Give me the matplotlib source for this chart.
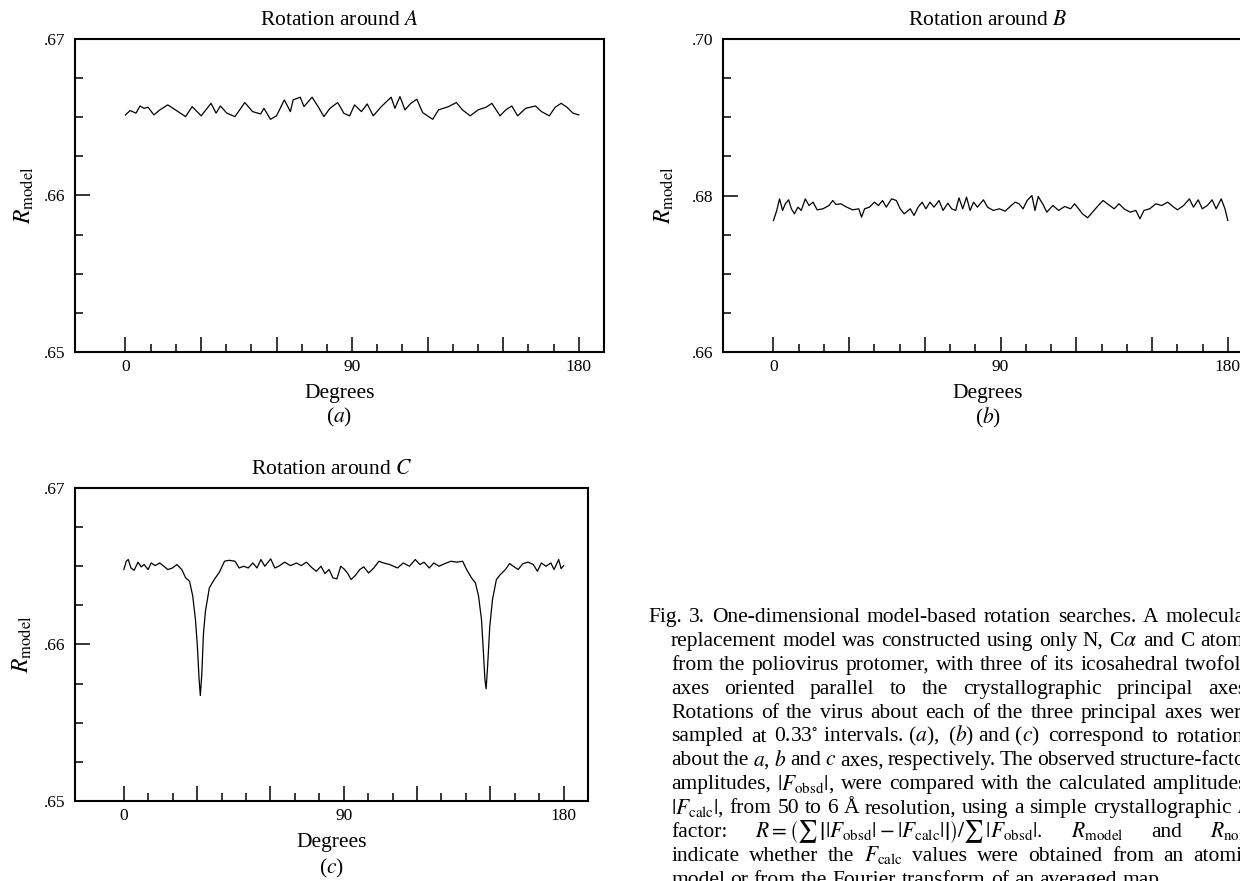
import re
import matplotlib
matplotlib.use("Agg")
import matplotlib.pyplot as plt
from matplotlib.ticker import FixedLocator, FixedFormatter

plt.rcParams["font.family"] = ["Liberation Serif", "DejaVu Serif"]
plt.rcParams["mathtext.fontset"] = "stix"

# Rotation around A (degrees, R_model)
degA = [0, 1.9, 4.2, 5.8, 7.4, 9, 11.3, 13.7, 16.8, 19.9, 23.9, 26.5, 30.1, 34, 36,
        37.7, 40.3, 43.5, 47.4, 50.5, 53.7, 55, 57.6, 60, 63.1, 65.5, 66.6, 69.4, 70.9,
        74.1, 76.5, 78.8, 81.2, 84.3, 86.7, 89, 91, 93.7, 96, 98.4, 101.6, 105.5, 107,
        109, 111, 113.3, 115.7, 118, 120.4, 122, 124.3, 128.3, 131.4, 133.8, 136.9, 140,
        143.2, 145.5, 148.7, 151, 153.4, 155.7, 158.9, 162.8, 165.2, 168.3, 170.6, 173,
        175.3, 177.7, 180]
rA = [0.66515, 0.66543, 0.66526, 0.66572, 0.66557, 0.66564, 0.66515, 0.66547, 0.66579,
      0.66547, 0.66504, 0.66568, 0.66509, 0.66589, 0.66526, 0.66572, 0.66526, 0.66504,
      0.66594, 0.66536, 0.66521, 0.66557, 0.66487, 0.66509, 0.66611, 0.66536, 0.66611,
      0.66628, 0.66568, 0.66628, 0.66568, 0.66504, 0.66557, 0.66594, 0.66526, 0.66509,
      0.66579, 0.66536, 0.66585, 0.66509, 0.66568, 0.66628, 0.66557, 0.66632, 0.66547,
      0.66589, 0.66615, 0.66530, 0.66504, 0.66487, 0.66547, 0.66568, 0.66594, 0.66547,
      0.66509, 0.66547, 0.66564, 0.66589, 0.66509, 0.66547, 0.66572, 0.66509, 0.66557,
      0.66572, 0.66536, 0.66509, 0.66564, 0.66589, 0.66564, 0.66526, 0.66515]

# Rotation around B
degB = [0, 1.3, 2.4, 3.6, 4.7, 6.0, 7.1, 8.3, 9.7, 11.0, 12.6, 14.1, 15.7, 17.3, 19.6,
        22.0, 23.5, 24.8, 26.7, 29.0, 31.4, 33.8, 34.9, 36.1, 38.0, 40.0, 41.6, 43.2,
        44.7, 46.8, 48.7, 50.2, 51.8, 54.2, 55.7, 57.3, 58.9, 60.4, 62.0, 63.6, 65.6,
        67.2, 69.1, 70.6, 72.2, 73.5, 75.0, 76.5, 77.9, 79.3, 80.8, 83.2, 84.8, 87.1,
        89.5, 91.8, 94.2, 95.8, 97.3, 98.9, 100.5, 102.4, 103.6, 104.9, 106.8, 108.3,
        110.7, 113.0, 115.4, 117.7, 119.3, 120.9, 122.4, 124.5, 126.4, 128.7, 130.6,
        132.7, 135.0, 136.9, 138.9, 141.3, 143.6, 145.2, 146.8, 149.1, 151.5, 153.8,
        156.2, 158.6, 160.1, 162.5, 164.8, 166.4, 168.3, 169.9, 171.9, 173.8, 175.4,
        177.4, 178.9, 180]
rB = [0.67681, 0.67809, 0.67957, 0.67809, 0.67894, 0.67945, 0.67830, 0.67766, 0.67851,
      0.67809, 0.67957, 0.67872, 0.67915, 0.67817, 0.67830, 0.67872, 0.67936, 0.67885,
      0.67894, 0.67851, 0.67817, 0.67830, 0.67723, 0.67830, 0.67851, 0.67915, 0.67872,
      0.67936, 0.67851, 0.67957, 0.67936, 0.67830, 0.67766, 0.67830, 0.67745, 0.67851,
      0.67915, 0.67830, 0.67915, 0.67851, 0.67936, 0.67809, 0.67902, 0.67830, 0.67809,
      0.67970, 0.67830, 0.67979, 0.67809, 0.67915, 0.67851, 0.67945, 0.67851, 0.67809,
      0.67830, 0.67800, 0.67872, 0.67915, 0.67894, 0.67830, 0.67936, 0.68000, 0.67809,
      0.67987, 0.67885, 0.67787, 0.67872, 0.67809, 0.67860, 0.67830, 0.67894, 0.67830,
      0.67766, 0.67715, 0.67787, 0.67872, 0.67936, 0.67885, 0.67830, 0.67894, 0.67830,
      0.67787, 0.67809, 0.67702, 0.67809, 0.67830, 0.67894, 0.67872, 0.67915, 0.67851,
      0.67817, 0.67872, 0.67957, 0.67851, 0.67945, 0.67830, 0.67872, 0.67945, 0.67830,
      0.67957, 0.67830, 0.67681]

# Rotation around C
degC = [0, 1, 1.8, 2.9, 4.2, 5.8, 7.1, 8.3, 9.9, 11.2, 12.8, 14.7, 16.4, 18, 19.9, 21.7,
        23.7, 25.3, 26.9, 28.2, 29.3, 30.1, 30.8, 31.3, 31.9, 32.6, 33.4, 35, 37, 39.1,
        41.2, 43.1, 45.5, 47.2, 49.1, 50.9, 52.8, 54.5, 56.1, 57.7, 60.1, 61.8, 63.4,
        65.8, 68.2, 70.7, 72.6, 74.7, 77.1, 78.8, 80.7, 82.3, 84, 85.6, 87.2, 88.8, 90.4,
        91.7, 93, 94.7, 96.6, 98.2, 100.2, 102.3, 104.4, 106.3, 108.8, 110.4, 112, 114.4,
        116.9, 119.3, 121.2, 122.9, 125, 126.9, 129, 131.4, 133.9, 136.3, 138.7, 140.3,
        142.3, 143.9, 145.2, 146.4, 147.2, 147.8, 148.3, 148.9, 149.8, 150.9, 152.5,
        154.1, 156.2, 157.9, 159.8, 161.4, 163.4, 165.5, 167.6, 169.3, 170.9, 172.8,
        174.8, 176.1, 178, 179, 180]
rC = [0.66479, 0.66532, 0.66543, 0.66489, 0.66474, 0.66526, 0.66496, 0.66511, 0.66479,
      0.66521, 0.66504, 0.66521, 0.66500, 0.66479, 0.66489, 0.66511, 0.66479, 0.66426,
      0.66404, 0.66309, 0.66160, 0.65989, 0.65777, 0.65674, 0.65809, 0.66074, 0.66213,
      0.66362, 0.66415, 0.66462, 0.66532, 0.66538, 0.66532, 0.66489, 0.66500, 0.66489,
      0.66521, 0.66489, 0.66543, 0.66500, 0.66547, 0.66489, 0.66500, 0.66526, 0.66504,
      0.66521, 0.66504, 0.66526, 0.66489, 0.66468, 0.66500, 0.66453, 0.66479, 0.66426,
      0.66419, 0.66500, 0.66479, 0.66453, 0.66415, 0.66440, 0.66479, 0.66496, 0.66457,
      0.66489, 0.66532, 0.66521, 0.66511, 0.66500, 0.66489, 0.66521, 0.66500, 0.66543,
      0.66511, 0.66526, 0.66489, 0.66521, 0.66500, 0.66517, 0.66532, 0.66526, 0.66532,
      0.66479, 0.66426, 0.66394, 0.66309, 0.66160, 0.65947, 0.65777, 0.65717, 0.65862,
      0.66117, 0.66287, 0.66415, 0.66447, 0.66479, 0.66517, 0.66496, 0.66479, 0.66517,
      0.66526, 0.66511, 0.66468, 0.66521, 0.66500, 0.66521, 0.66479, 0.66543, 0.66485,
      0.66504]

# Ticks
xMajor = [0, 30, 60, 90, 120, 150, 180]
xMinor = [10, 20, 40, 50, 70, 80, 100, 110, 130, 140, 160, 170]
xLabels = ["0", "", "", "90", "", "", "180"]
yMajorAC = [0.65, 0.66, 0.67]
yLabelsAC = [".65", ".66", ".67"]
yMinorAC = [0.6525, 0.655, 0.6575, 0.6625, 0.665, 0.6675]
yMajorB = [0.66, 0.68, 0.70]
yLabelsB = [".66", ".68", ".70"]
yMinorB = [0.665, 0.67, 0.675, 0.685, 0.69, 0.695]

captionLines = [
    r"Fig. 3. One-dimensional model-based rotation searches. A molecular",
    r"replacement model was constructed using only N, C$\alpha$ and C atoms",
    r"from the poliovirus protomer, with three of its icosahedral twofold",
    r"axes oriented parallel to the crystallographic principal axes.",
    r"Rotations of the virus about each of the three principal axes were",
    r"sampled at 0.33$^{\circ}$ intervals. ($a$), ($b$) and ($c$) correspond to rotations",
    r"about the $a$, $b$ and $c$ axes, respectively. The observed structure-factor",
    r"amplitudes, $|F_{\rm obsd}|$, were compared with the calculated amplitudes,",
    r"$|F_{\rm calc}|$, from 50 to 6 Å resolution, using a simple crystallographic $R$",
    r"factor: $R = \left(\sum\,\left||F_{\rm obsd}| - |F_{\rm calc}|\right|\right)/\sum\,|F_{\rm obsd}|.$ $R_{\rm model}$ and $R_{\rm nonmodel}$",
    r"indicate whether the $F_{\rm calc}$ values were obtained from an atomic",
    r"model or from the Fourier transform of an averaged map.",
]

W, H = 1240, 881
fig = plt.figure(figsize=(W / 100, H / 100), dpi=100, facecolor="white")


def makeAxes(left, top, right, bottom):
    return fig.add_axes([left / W, 1 - bottom / H, (right - left) / W, (bottom - top) / H])


def styleAxis(ax, yMajor, yLabels, yMinor, title, ylabelX):
    ax.set_xlim(-20, 190)
    ax.set_ylim(yMajor[0], yMajor[-1])
    for s in ax.spines.values():
        s.set_linewidth(1.5)
    ax.xaxis.set_major_locator(FixedLocator(xMajor))
    ax.xaxis.set_major_formatter(FixedFormatter(xLabels))
    ax.xaxis.set_minor_locator(FixedLocator(xMinor))
    ax.yaxis.set_major_locator(FixedLocator(yMajor))
    ax.yaxis.set_major_formatter(FixedFormatter(yLabels))
    ax.yaxis.set_minor_locator(FixedLocator(yMinor))
    ax.tick_params(which="both", direction="in", top=False, right=False, width=1.1)
    ax.tick_params(which="major", length=11)
    ax.tick_params(which="minor", length=6)
    ax.tick_params(axis="x", labelsize=12.5, pad=5)
    ax.tick_params(axis="y", labelsize=12.5, pad=7)
    ax.text(0.5, 1.06, title, transform=ax.transAxes, ha="center", va="center", fontsize=15.5)
    ax.set_ylabel(r"$R_{\rm model}$", fontsize=17, va="center")
    ax.yaxis.set_label_coords(ylabelX, 0.5)
    ax.set_xlabel("Degrees", fontsize=15.5, va="center")
    ax.xaxis.set_label_coords(0.5, -0.133)


axA = makeAxes(75, 39, 604, 352)
axA.plot(degA, rA, color="black", lw=0.9)
styleAxis(axA, yMajorAC, yLabelsAC, yMinorAC, r"Rotation around $A$", -0.096)
axA.text(0.5, -0.21, r"($a$)", transform=axA.transAxes, ha="center", va="center", fontsize=15.5)

axB = makeAxes(723, 39, 1253, 352)
axB.plot(degB, rB, color="black", lw=0.9)
styleAxis(axB, yMajorB, yLabelsB, yMinorB, r"Rotation around $B$", -0.11)
axB.text(0.5, -0.21, r"($b$)", transform=axB.transAxes, ha="center", va="center", fontsize=15.5)

axC = makeAxes(75, 488, 588, 801)
axC.plot(degC, rC, color="black", lw=0.9)
styleAxis(axC, yMajorAC, yLabelsAC, yMinorAC, r"Rotation around $C$", -0.103)
axC.text(0.5, -0.215, r"($c$)", transform=axC.transAxes, ha="center", va="center", fontsize=15.5)

# Caption, justified word by word
CAP_FS = 15.5
renderer = fig.canvas.get_renderer()
spacePx = 0.25 * CAP_FS * 100 / 72
for i, line in enumerate(captionLines):
    words = re.findall(r"\S*\$[^$]*\$\S*|\S+", line)
    x0 = 648 if i == 0 else 671
    x1 = 1285 if i == 9 else 1252
    yBase = 616 + 23.9 * i + 6
    items = [fig.text(0, 0, w, fontsize=CAP_FS, ha="left", va="baseline") for w in words]
    widths = [t.get_window_extent(renderer).width for t in items]
    if i < len(captionLines) - 1 and len(words) > 1:
        gap = max((x1 - x0 - sum(widths)) / (len(words) - 1), 0.6 * spacePx)
    else:
        gap = spacePx
    x = x0
    for t, w in zip(items, widths):
        t.set_position((x / W, 1 - yBase / H))
        x += w + gap

fig.savefig("out.png", dpi=100, facecolor="white")
